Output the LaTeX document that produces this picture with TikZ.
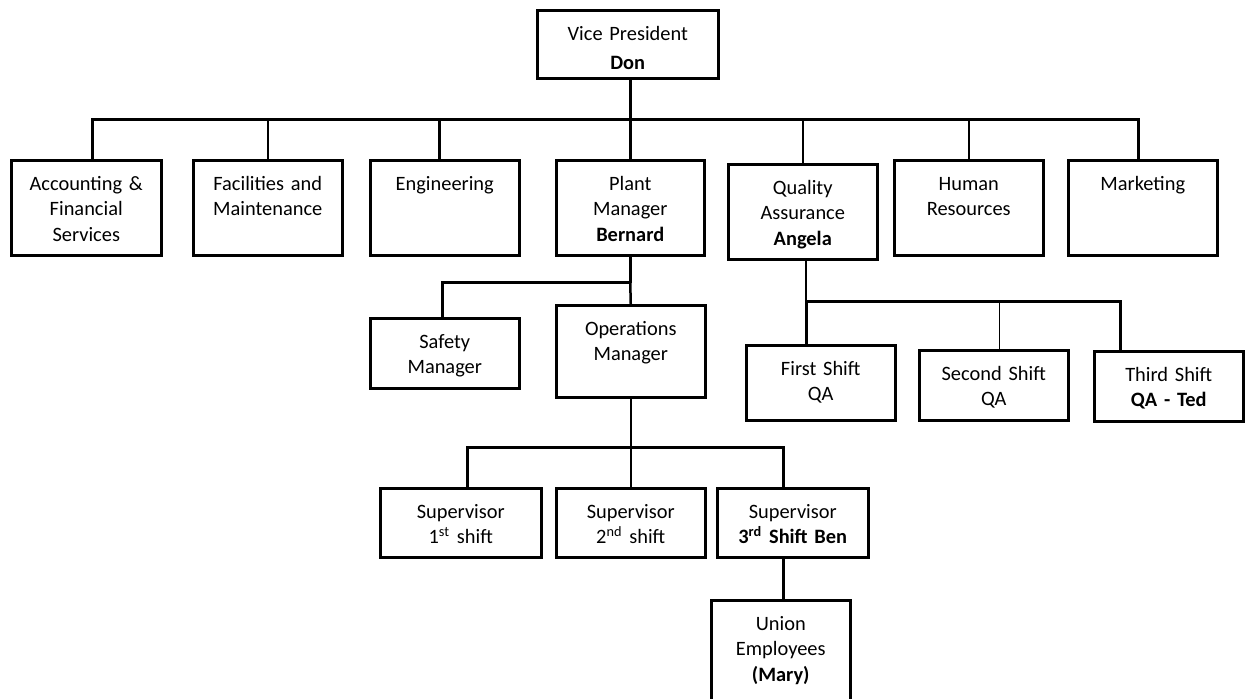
\documentclass[tikz,border=0pt]{standalone}
\usepackage{fontspec}
\setmainfont{Carlito}
\tikzset{
  unit/.style={draw, line width=1.25pt, anchor=north west, align=center,
    inner sep=0pt, text height=15pt, font=\fontsize{10.2}{12.75}\selectfont},
  box/.style 2 args={text width=#1, text depth=#2},
  link/.style={line width=1.25pt},
}

\begin{document}
\begin{tikzpicture}[x=0.5pt,y=-0.5pt]
\fill[white] (0,0) rectangle (1246,698);
\useasboundingbox (0,0) rectangle (1246,698);

\draw (536,9) node[unit,box={90.5pt}{19pt}] (vp) {Vice President\\[2pt]\textbf{Don}} ;

\draw (10,159) node[unit,box={75pt}{32.5pt}] (acct) {Accounting \&\\Financial\\Services} ;
\draw (192,159) node[unit,box={74.5pt}{32.5pt}] (facil) {Facilities and\\Maintenance} ;
\draw (369,159) node[unit,box={74.5pt}{32.5pt}] (engr) {Engineering} ;
\draw (555,159) node[unit,box={74pt}{32.5pt}] (plant) {Plant\\Manager\\\textbf{Bernard}} ;
\draw (727,163) node[unit,box={74.5pt}{32.5pt}] (qa) {Quality\\Assurance\\\textbf{Angela}} ;
\draw (893,159) node[unit,box={74.5pt}{32.5pt}] (hr) {Human\\Resources} ;
\draw (1067,159) node[unit,box={74.5pt}{32.5pt}] (mkt) {Marketing} ;

\draw (369,317) node[unit,box={74.5pt}{20pt}] (safety) {Safety\\Manager} ;
\draw (555,304) node[unit,box={74.5pt}{31pt}] (ops) {Operations\\Manager} ;

\draw (379,487) node[unit,box={80.5pt}{19.5pt}] (sup1) {Supervisor\\1\textsuperscript{st} shift} ;
\draw (555,487) node[unit,box={74.5pt}{19.5pt}] (sup2) {Supervisor\\2\textsuperscript{nd} shift} ;
\draw (716,487) node[unit,box={75.5pt}{19.5pt}] (sup3) {Supervisor\\\textbf{3\textsuperscript{rd} Shift Ben}} ;

\draw (710,599) node[unit,box={69.5pt}{35.5pt}] (union) {Union\\Employees\\\textbf{(Mary)}} ;

\draw (745,344) node[unit,box={74.5pt}{22.5pt}] (qa1) {First Shift\\QA} ;
\draw (918,349) node[unit,box={74.5pt}{20pt}] (qa2) {Second Shift\\QA} ;
\draw (1093,350) node[unit,box={74.5pt}{20pt}] (qa3) {Third Shift\\\textbf{QA - Ted}} ;

\coordinate (bus1) at ([xshift=1.25pt,yshift=-20pt]vp.south);
\coordinate (bus2) at ([yshift=-13pt]plant.south);
\coordinate (bus3) at ([yshift=-24.5pt]ops.south);
\coordinate (bus4) at ([xshift=1.5pt,yshift=-20.5pt]qa.south);

\draw[link] ([xshift=1.25pt]vp.south) -- (bus1);
\draw[link] ([xshift=3pt]acct.north) |- (bus1);
\draw[link] (facil.north) |- (bus1);
\draw[link] ([xshift=-2.75pt]engr.north) |- (bus1);
\draw[link] (plant.north) -- (bus1);
\draw[link] (qa.north) |- (bus1);
\draw[link] (hr.north) |- (bus1);
\draw[link] ([xshift=-2.25pt]mkt.north) |- (bus1);

\draw[link] (plant.south) -- (bus2);
\draw[link] ([xshift=-1.25pt]safety.north) |- (bus2);
\draw[link] (ops.north) -- (bus2);

\draw[link] (ops.south) -- (bus3);
\draw[link] ([xshift=3.25pt]sup1.north) |- (bus3);
\draw[link] (sup2.north) -- (bus3);
\draw[link] ([xshift=-4.75pt]sup3.north) |- (bus3);

\draw[link] ([xshift=-4.75pt]sup3.south) -- ([xshift=-4.75pt]sup3.south |- union.north);

\draw[link] ([xshift=1.5pt]qa.south) -- (bus4);
\draw[link] ([xshift=-7.25pt]qa1.north) |- (bus4);
\draw[line width=0.75pt] ([xshift=2.75pt]qa2.north) |- (bus4);
\draw[link] ([xshift=-24.25pt]qa3.north) |- (bus4);
\end{tikzpicture}
\end{document}
